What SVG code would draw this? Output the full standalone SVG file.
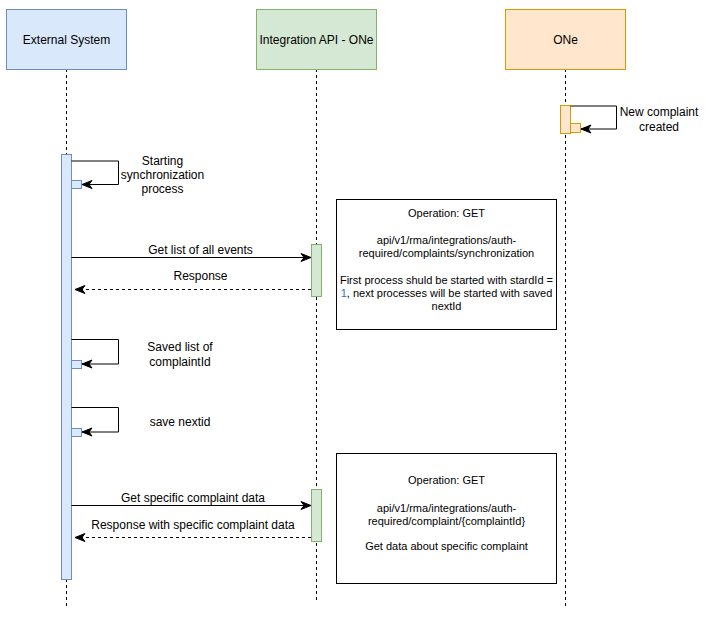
<svg xmlns="http://www.w3.org/2000/svg" width="706" height="624" viewBox="0 0 706 624">
<defs>
<marker id="arr" markerUnits="userSpaceOnUse" markerWidth="12" markerHeight="10" viewBox="0 0 12 10" refX="11" refY="5" orient="auto">
<path d="M1,1 L11,5 L1,9 L4,5 z" fill="#000" stroke="#000" stroke-width="1"/>
</marker>
</defs>
<style>
text{font-family:"Liberation Sans",Arial,sans-serif;fill:#000;text-anchor:middle}
.t12{font-size:12px}
.t11{font-size:11px}
.life{stroke:#000;stroke-width:1;stroke-dasharray:3 3;fill:none}
.blue{fill:#dae8fc;stroke:#6c8ebf;stroke-width:1}
.green{fill:#d5e8d4;stroke:#82b366;stroke-width:1}
.orange{fill:#ffe6cc;stroke:#d79b00;stroke-width:1}
.note{fill:#fff;stroke:#000;stroke-width:1}
.msg{stroke:#000;stroke-width:1;fill:none;marker-end:url(#arr)}
.ret{stroke:#000;stroke-width:1;fill:none;stroke-dasharray:3 3;marker-end:url(#arr)}
</style>
<rect width="706" height="624" fill="#fff"/>
<g id="lifelines">
<line class="life" x1="66.5" y1="69" x2="66.5" y2="155"/>
<line class="life" x1="66.5" y1="579" x2="66.5" y2="608"/>
<line class="life" x1="316.5" y1="69" x2="316.5" y2="602"/>
<line class="life" x1="565.5" y1="69" x2="565.5" y2="608"/>
</g>
<g id="external-system">
<rect class="blue" x="6.5" y="9.5" width="120" height="60"/>
<text class="t12" x="66.5" y="43.5">External System</text>
</g>
<g id="integration-api">
<rect class="green" x="256.5" y="9.5" width="120" height="60"/>
<text class="t12" x="316.5" y="43.5">Integration API - ONe</text>
</g>
<g id="one">
<rect class="orange" x="505.5" y="9.5" width="120" height="60"/>
<text class="t12" x="565.5" y="43.5">ONe</text>
</g>
<g id="activations">
<rect class="blue" x="61.5" y="154.5" width="10" height="425"/>
<rect class="green" x="311.5" y="244.5" width="10" height="52"/>
<rect class="green" x="311.5" y="489.5" width="10" height="52"/>
<rect class="orange" x="560.5" y="105.5" width="10" height="28"/>
<rect class="blue" x="71.5" y="180.5" width="10" height="8"/>
<rect class="blue" x="71.5" y="360.5" width="10" height="8"/>
<rect class="blue" x="71.5" y="428.5" width="10" height="8"/>
<rect class="orange" x="570.5" y="123.5" width="10" height="9"/>
</g>
<g id="connectors">
<path class="msg" d="M71.5,161 H118.5 V184.5 H82"/>
<path class="msg" d="M71.5,339.5 H118.5 V364 H82"/>
<path class="msg" d="M71.5,407.5 H118.5 V432 H82"/>
<path class="msg" d="M570.5,106 H616.5 V129 H581"/>
<line class="msg" x1="71.5" y1="257.5" x2="311" y2="257.5"/>
<line class="ret" x1="311" y1="289.5" x2="75" y2="289.5"/>
<line class="msg" x1="71.5" y1="505.5" x2="311" y2="505.5"/>
<line class="ret" x1="311" y1="537.5" x2="75" y2="537.5"/>
</g>
<g id="labels">
<text class="t12"><tspan x="162.5" y="164.5">Starting</tspan><tspan x="162.5" y="178.5">synchronization</tspan><tspan x="162.5" y="192.5">process</tspan></text>
<text class="t12"><tspan x="659" y="116">New complaint</tspan><tspan x="659" y="131">created</tspan></text>
<text class="t12" x="200.5" y="253.5">Get list of all events</text>
<text class="t12" x="200.5" y="280">Response</text>
<text class="t12"><tspan x="180" y="351">Saved list of</tspan><tspan x="180" y="366">complaintId</tspan></text>
<text class="t12" x="180" y="426">save nextid</text>
<text class="t12" x="193" y="501.5">Get specific complaint data</text>
<text class="t12" x="193" y="529">Response with specific complaint data</text>
</g>
<g id="note-synchronization">
<rect class="note" x="336.5" y="199.5" width="220" height="130"/>
<text class="t11"><tspan x="446.5" y="216.5">Operation: GET</tspan><tspan x="446.5" y="244">api/v1/rma/integrations/auth-</tspan><tspan x="446.5" y="257">required/complaints/synchronization</tspan><tspan x="446.5" y="284">First process shuld be started with stardId =</tspan><tspan x="446.5" y="297"><tspan fill="#1a6fd1">1</tspan>, next processes will be started with saved</tspan><tspan x="446.5" y="310">nextId</tspan></text>
</g>
<g id="note-complaint">
<rect class="note" x="336.5" y="453.5" width="220" height="130"/>
<text class="t11"><tspan x="446.5" y="483.5">Operation: GET</tspan><tspan x="446.5" y="512">api/v1/rma/integrations/auth-</tspan><tspan x="446.5" y="525">required/complaint/{complaintId}</tspan><tspan x="446.5" y="550">Get data about specific complaint</tspan></text>
</g>
</svg>
